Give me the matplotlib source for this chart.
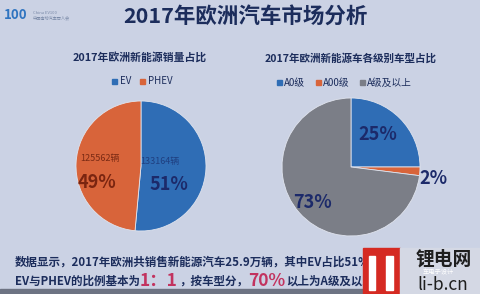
import matplotlib
matplotlib.use("Agg")
import matplotlib.pyplot as plt
from matplotlib.patches import Rectangle

plt.rcParams['font.family'] = ['Noto Sans CJK SC', 'DejaVu Sans']

# ---- data ----
title = "2017年欧洲汽车市场分析"
left_title = "2017年欧洲新能源销量占比"
left_labels = ["EV", "PHEV"]
left_values = [133164, 125562]
left_pct = ["51%", "49%"]
right_title = "2017年欧洲新能源车各级别车型占比"
right_labels = ["A0级", "A00级", "A级及以上"]
right_values = [25, 2, 73]
line1 = "数据显示，2017年欧洲共销售新能源汽车25.9万辆，其中EV占比51%，PHEV占比49%，"
line2_parts = [("EV与PHEV的比例基本为", False), ("1：1", True), ("，按车型分，", False),
               ("70%", True), ("以上为A级及以上车型。", False)]

BLUE = "#2f6db5"
ORANGE = "#d8643a"
GRAY = "#7b7e87"
NAVY = "#1c2d5c"
BG = "#cbd2e4"
W, H = 480, 294

fig = plt.figure(figsize=(4.8, 2.94), dpi=100)
fig.patch.set_facecolor(BG)

def fx(x): return x / W
def fy(y): return 1 - y / H

# bottom dark strip
fig.patches.append(Rectangle((0, 0), 1, fy(289), transform=fig.transFigure, color="#6d7383", zorder=0))

# logo
fig.text(fx(4), fy(15), "100", color="#2f74c0", fontsize=9.5, fontweight="bold", va="center", ha="left")
fig.text(fx(33), fy(12.5), "China EV100", color="#7a8aa8", fontsize=3, va="center")
fig.text(fx(33), fy(18), "中国电动汽车百人会", color="#7a8aa8", fontsize=3, va="center")

fig.text(fx(245), fy(16), title, color=NAVY, fontsize=15.5, fontweight="bold", ha="center", va="center")

# left pie
axl = fig.add_axes([fx(76), fy(231), 130 / W, 130 / H])
axl.pie(left_values, colors=[BLUE, ORANGE], startangle=90, counterclock=False,
        wedgeprops=dict(linewidth=0.6, edgecolor="#e0e4ee"))
axl.set_xlim(-1, 1); axl.set_ylim(-1, 1); axl.set_aspect("equal"); axl.axis("off")
fig.text(fx(140), fy(57), left_title, color=NAVY, fontsize=7.8, fontweight="bold", ha="center", va="center")

# left legend
lx = 112
for lab, col in zip(left_labels, [BLUE, ORANGE]):
    fig.patches.append(Rectangle((fx(lx), fy(84)), 5 / W, 5 / H, transform=fig.transFigure, color=col))
    fig.text(fx(lx + 8), fy(81.5), lab, color=NAVY, fontsize=7, ha="left", va="center")
    lx += 8 + (14 if lab == "EV" else 30) + 6

# left labels
fig.text(fx(160), fy(161), f"{left_values[0]}辆", color="#1f3f80", fontsize=6.5, ha="center", va="center")
fig.text(fx(169), fy(185), left_pct[0], color="#1c2a6a", fontsize=13, fontweight="bold", ha="center", va="center")
fig.text(fx(100), fy(159), f"{left_values[1]}辆", color="#7a2a14", fontsize=6.5, ha="center", va="center")
fig.text(fx(97), fy(183), left_pct[1], color="#7a2510", fontsize=13, fontweight="bold", ha="center", va="center")

# right pie
axr = fig.add_axes([fx(282), fy(236), 138 / W, 138 / H])
axr.pie(right_values, colors=[BLUE, ORANGE, GRAY], startangle=90, counterclock=False,
        wedgeprops=dict(linewidth=0.6, edgecolor="#e0e4ee"))
axr.set_xlim(-1, 1); axr.set_ylim(-1, 1); axr.set_aspect("equal"); axr.axis("off")
fig.text(fx(351), fy(58), right_title, color=NAVY, fontsize=7.6, fontweight="bold", ha="center", va="center")

rx = 277
widths = [22, 27, 40]
for lab, col, w in zip(right_labels, [BLUE, ORANGE, GRAY], widths):
    fig.patches.append(Rectangle((fx(rx), fy(85)), 5 / W, 5 / H, transform=fig.transFigure, color=col))
    fig.text(fx(rx + 7), fy(83), lab, color=NAVY, fontsize=7, ha="left", va="center")
    rx += 7 + w + 10

fig.text(fx(378), fy(135), f"{right_values[0]}%", color="#1c2a6a", fontsize=13, fontweight="bold", ha="center", va="center")
fig.text(fx(433), fy(178), f"{right_values[1]}%", color="#1c2a6a", fontsize=13, fontweight="bold", ha="center", va="center")
fig.text(fx(313), fy(203), f"{right_values[2]}%", color="#1c2a6a", fontsize=13, fontweight="bold", ha="center", va="center")

# bottom text
fig.text(fx(15), fy(262), line1, color=NAVY, fontsize=8.3, fontweight="bold", ha="left", va="center")
fig.canvas.draw()
r = fig.canvas.get_renderer()
x = 15
for txt, hi in line2_parts:
    t = fig.text(fx(x), fy(281), txt, color="#c2335f" if hi else NAVY,
                 fontsize=12.5 if hi else 8.3, fontweight="bold", ha="left", va="center")
    bb = t.get_window_extent(renderer=r)
    x += bb.width + (1 if hi else 0)

# watermark
fig.patches.append(Rectangle((fx(363), 0), 37 / W, 46 / H, transform=fig.transFigure, color="#d52a22", zorder=5))
fig.patches.append(Rectangle((fx(369), fy(290)), 6 / W, 34 / H, transform=fig.transFigure, color="white", zorder=6))
fig.patches.append(Rectangle((fx(386), fy(290)), 7 / W, 34 / H, transform=fig.transFigure, color="white", zorder=6))
fig.patches.append(Rectangle((fx(400), 0), 80 / W, 46 / H, transform=fig.transFigure, color="#d4d8e4", zorder=5))
fig.text(fx(444), fy(259), "锂电网", color="#1e1e1e", fontsize=13.5, fontweight="bold", ha="center", va="center", zorder=7)
fig.text(fx(443), fy(285), "li-b.cn", color="#1e1e1e", fontsize=12.5, ha="center", va="center", zorder=7)
fig.text(fx(438), fy(272), "车电子设计", color="white", fontsize=4.5, ha="center", va="center", zorder=8)

fig.savefig("out.png", dpi=100, facecolor=fig.get_facecolor())
